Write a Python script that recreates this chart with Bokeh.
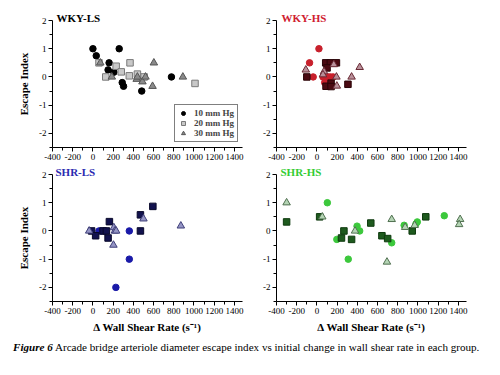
from bokeh.plotting import figure
from bokeh.models import FixedTicker, Legend, LegendItem, Div, Range1d
from bokeh.layouts import column, row
from bokeh.embed import file_html
from bokeh.resources import INLINE

# ---------------- data ----------------
x_ticks = [-400, -200, 0, 200, 400, 600, 800, 1000, 1200, 1400]
y_ticks = [-2, -1, 0, 1, 2]
legend_labels = ["10 mm Hg", "20 mm Hg", "30 mm Hg"]

# WKY-LS
wls_c_x = [0, 33, 260, 160, 150, 207, 290, 303, 483, 777]
wls_c_y = [1, 0.75, 1, 0.5, 0.25, 0.17, -0.2, -0.33, -0.5, 0]
wls_s_x = [60, 127, 230, 280, 367, 360, 440, 507, 1010]
wls_s_y = [0.5, 0, 0.38, 0.18, 0.5, 0.04, 0.1, 0, -0.23]
wls_t_x = [73, 187, 433, 440, 490, 520, 590, 603, 890]
wls_t_y = [0.5, 0, -0.08, 0, -0.17, 0, -0.33, 0.5, 0]

# WKY-HS
whs_c_x = [20, -73, -37, 60, 110, 133, 160, 77]
whs_c_y = [1, 0.5, 0, 0, 0, 0, 0, -0.2]
whs_s_x = [-100, 87, 133, 193, 100, 90, 140, 140, 307]
whs_s_y = [0, 0.5, 0.5, 0.5, 0.32, -0.33, -0.22, -0.34, -0.26]
whs_t_x = [-110, 70, 167, 193, 197, 343, 423, 60]
whs_t_y = [0.25, 0.19, 0.44, 0, -0.32, 0, 0.34, 0.08]

# SHR-LS
sls_c_x = [60, 87, 360, 360, 227]
sls_c_y = [0, 0, 0, -1, -2]
sls_s_x = [-13, 27, 100, 133, 150, 163, 470, 470, 593]
sls_s_y = [0, -0.17, 0, 0, -0.25, 0.33, 0.57, 0, 0.87]
sls_t_x = [-37, 207, 217, 230, 203, 500, 870]
sls_t_y = [0, 0.12, 0, 0, -0.5, 0.43, 0.18]

# SHR-HS
shs_c_x = [103, 197, 310, 397, 423, 740, 863, 980, 993, 1260]
shs_c_y = [1, -0.3, -1, 0.17, 0, -0.42, 0.2, 0.25, 0.32, 0.54]
shs_s_x = [-300, 27, 267, 243, 343, 533, 643, 700, 943, 1077]
shs_s_y = [0.32, 0.5, 0, -0.25, -0.3, 0.28, -0.17, -0.27, 0, 0.5]
shs_t_x = [-300, 53, 377, 740, 693, 873, 967, 1417, 1407]
shs_t_y = [1, 0.5, 0, 0.41, -1.1, 0.13, 0.2, 0.41, 0.23]

FONT = "Liberation Serif"


def panel(title, tcolor, data, colors, width, height, bl, br, bt, bb,
          ylabel=None, xlabel=None, legend=False, title_dx=4):
    p = figure(width=width, height=height, output_backend="svg", toolbar_location=None,
               title=title,
               x_range=Range1d(-400, 1480), y_range=Range1d(-2.5, 2),
               min_border_left=bl, min_border_right=br, min_border_top=bt, min_border_bottom=bb)
    p.title.align = "left"
    p.title.offset = title_dx
    p.title.standoff = -7
    p.title.text_font = FONT
    p.title.text_font_size = "11px"
    p.title.text_font_style = "bold"
    p.title.text_color = tcolor
    p.title.vertical_align = "bottom"

    p.grid.visible = False
    p.outline_line_color = None
    p.background_fill_color = "white"
    p.border_fill_color = "white"

    p.xaxis.ticker = FixedTicker(ticks=x_ticks, minor_ticks=[t + 100 for t in x_ticks[:-1]])
    p.yaxis.ticker = FixedTicker(ticks=y_ticks, minor_ticks=[-2.5, -1.5, -0.5, 0.5, 1.5])
    p.xaxis.major_label_overrides = {t: str(t) for t in x_ticks}
    p.yaxis.major_label_overrides = {t: str(t) for t in y_ticks}
    for ax in (p.xaxis[0], p.yaxis[0]):
        ax.axis_line_color = "black"
        ax.major_tick_line_color = "black"
        ax.minor_tick_line_color = "black"
        ax.major_tick_in = 0
        ax.major_tick_out = 4
        ax.minor_tick_in = 0
        ax.minor_tick_out = 3
        ax.major_label_text_font = FONT
        ax.major_label_text_font_size = "9px"
        ax.major_label_text_color = "black"
        ax.major_label_standoff = 2
        ax.axis_label_text_font = FONT
        ax.axis_label_text_font_size = "11px"
        ax.axis_label_text_font_style = "bold"
        ax.axis_label_text_color = "black"
    if ylabel:
        p.yaxis.axis_label = ylabel
        p.yaxis.axis_label_standoff = 6
    if xlabel:
        p.xaxis.axis_label = xlabel
        p.xaxis.axis_label_standoff = 4

    cx, cy, sx, sy, tx, ty = data
    c_col, s_fill, s_line, t_fill, t_line = colors
    r1 = p.scatter(cx, cy, marker="circle", size=6.5, fill_color=c_col, line_color=c_col)
    r2 = p.scatter(sx, sy, marker="square", size=6.5, fill_color=s_fill, line_color=s_line)
    r3 = p.scatter(tx, ty, marker="triangle", size=7.5, fill_color=t_fill, line_color=t_line)

    if legend:
        lg = Legend(items=[LegendItem(label=legend_labels[0], renderers=[r1]),
                           LegendItem(label=legend_labels[1], renderers=[r2]),
                           LegendItem(label=legend_labels[2], renderers=[r3])],
                    location=(width - bl - br - 68, 5))
        lg.border_line_color = "black"
        lg.border_line_width = 1
        lg.background_fill_alpha = 1
        lg.padding = 3
        lg.spacing = 0
        lg.margin = 0
        lg.glyph_width = 10
        lg.glyph_height = 10
        lg.label_height = 10
        lg.label_standoff = 6
        lg.label_text_font = FONT
        lg.label_text_font_size = "9px"
        lg.label_text_font_style = "bold"
        lg.label_text_baseline = "middle"
        p.add_layout(lg, "center")
    return p


XL = "\u0394 Wall Shear Rate (s\u207b\u00b9)"

p1 = panel("WKY-LS", "black", (wls_c_x, wls_c_y, wls_s_x, wls_s_y, wls_t_x, wls_t_y),
           ("black", "#C8C8C8", "#7A7A7A", "#8A8A8A", "#555555"),
           250, 166, 52, 8, 20, 19, ylabel="Escape Index", legend=True, title_dx=4)
p2 = panel("WKY-HS", "#D02030", (whs_c_x, whs_c_y, whs_s_x, whs_s_y, whs_t_x, whs_t_y),
           ("#C8202C", "#4A0A12", "#2A0508", "#B8909A", "#6A2A35"),
           234, 166, 26, 18, 20, 19, title_dx=5)
p3 = panel("SHR-LS", "#2A2AB0", (sls_c_x, sls_c_y, sls_s_x, sls_s_y, sls_t_x, sls_t_y),
           ("#1A1AA8", "#12124E", "#08082A", "#9494C4", "#40407A"),
           250, 169, 52, 8, 8, 33, ylabel="Escape Index", xlabel=XL, title_dx=3)
p4 = panel("SHR-HS", "#33CC33", (shs_c_x, shs_c_y, shs_s_x, shs_s_y, shs_t_x, shs_t_y),
           ("#3CC83C", "#1E5A1E", "#0E3A0E", "#B4D4B4", "#507050"),
           234, 169, 26, 18, 8, 33, xlabel=XL, title_dx=4)

cap = Div(text="<b><i>Figure 6</i></b> Arcade bridge arteriole diameter escape index vs initial change in wall shear rate in each group.",
          width=490, height=30, margin=(0, 0, 0, 0),
          styles={"font-family": FONT, "font-size": "11.1px", "padding-left": "13px",
                  "padding-top": "5px", "color": "black", "white-space": "nowrap"})

layout = column(row(p1, p2), row(p3, p4), cap)

open("out.html", "w").write(file_html(layout, INLINE))
